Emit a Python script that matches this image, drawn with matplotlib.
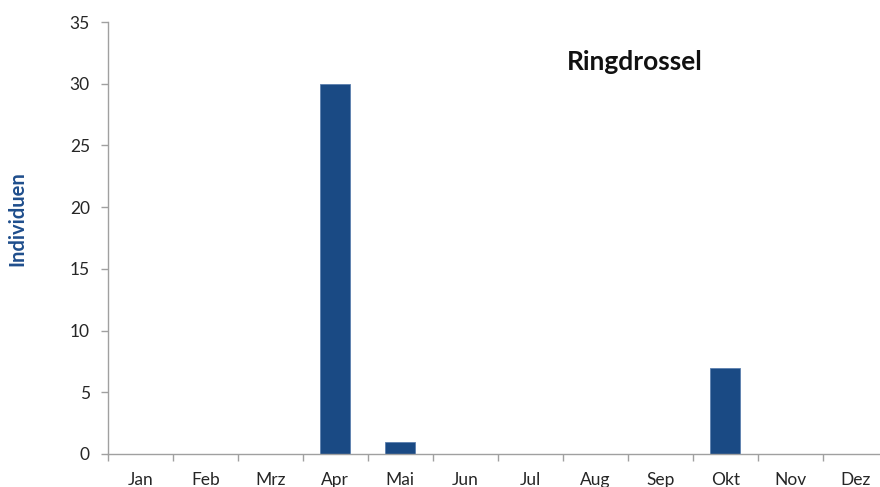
import numpy as np
import matplotlib
matplotlib.use('Agg')
from matplotlib import pyplot as plt

months = ['Jan', 'Feb', 'Mrz', 'Apr', 'Mai', 'Jun', 'Jul', 'Aug', 'Sep', 'Okt', 'Nov', 'Dez']
counts = [0, 0, 0, 30, 1, 0, 0, 0, 0, 7, 0, 0]

plot_title = 'Ringdrossel'
bar_color = '#1A4A84'

plt.rcParams['font.family'] = ['Lato', 'DejaVu Sans']


def main():
    fig = plt.figure(figsize=(8.8, 4.87), dpi=100)
    ax = fig.add_axes([0.1227, 0.0678, 0.886, 0.887])
    x = np.arange(len(months))
    ax.bar(x, counts, width=0.46, color=bar_color, edgecolor='#5C7FAE', linewidth=0.6)
    ax.set_xlim(-0.5, len(months) - 0.5)
    ax.set_ylim(0, 35)
    ax.set_yticks(range(0, 36, 5))
    ax.set_xticks(x)
    ax.set_xticklabels(months)
    ax.set_xticks(np.arange(-0.5, len(months), 1), minor=True)
    ax.tick_params(axis='x', which='major', length=0, pad=13, labelsize=12.5, colors='#262626')
    ax.tick_params(axis='x', which='minor', length=5, color='#A0A0A0', width=1)
    ax.tick_params(axis='y', length=5, color='#A0A0A0', width=1, pad=8, labelsize=12.5, labelcolor='#262626')
    for s in ['top', 'right']:
        ax.spines[s].set_visible(False)
    for s in ['left', 'bottom']:
        ax.spines[s].set_color('#A0A0A0')
        ax.spines[s].set_linewidth(1)
    ax.text(0.676, 0.907, plot_title, transform=ax.transAxes, ha='center', va='center',
            fontsize=19, fontweight='bold', color='#111111')
    fig.text(0.020, 0.551, 'Individuen', rotation=90, ha='center', va='center',
             fontsize=14.5, fontweight='bold', color='#1F4E8C')
    fig.savefig('out.png', dpi=100)


if __name__ == '__main__':
    main()
